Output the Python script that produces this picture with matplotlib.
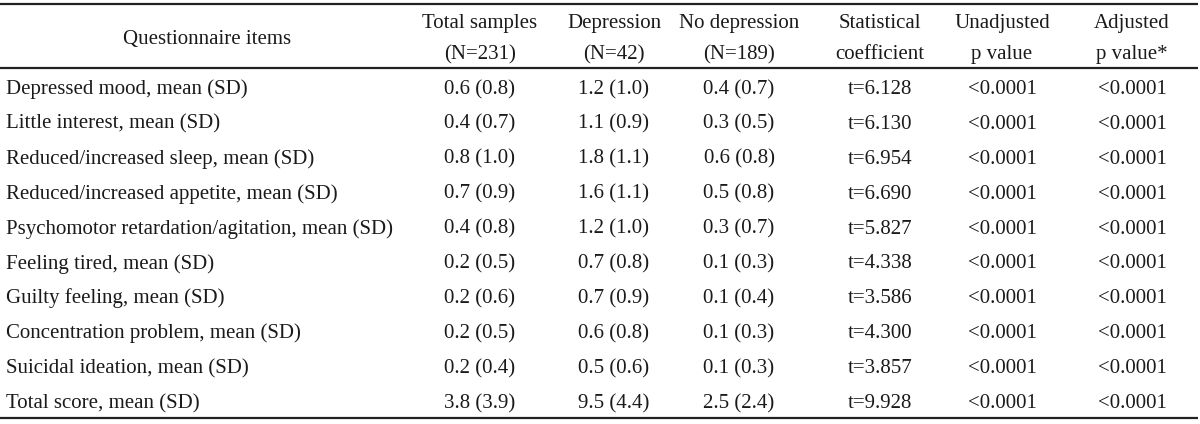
import matplotlib
matplotlib.use("Agg")
import matplotlib.pyplot as plt

plt.rcParams['font.family'] = ['Liberation Serif', 'DejaVu Serif']

HEADERS = ["Questionnaire items", "Total samples\n(N=231)", "Depression\n(N=42)",
           "No depression\n(N=189)", "Statistical\ncoefficient", "Unadjusted\np value",
           "Adjusted\np value*"]
ITEMS = ["Depressed mood, mean (SD)", "Little interest, mean (SD)",
         "Reduced/increased sleep, mean (SD)", "Reduced/increased appetite, mean (SD)",
         "Psychomotor retardation/agitation, mean (SD)", "Feeling tired, mean (SD)",
         "Guilty feeling, mean (SD)", "Concentration problem, mean (SD)",
         "Suicidal ideation, mean (SD)", "Total score, mean (SD)"]
total = ["0.6 (0.8)", "0.4 (0.7)", "0.8 (1.0)", "0.7 (0.9)", "0.4 (0.8)",
         "0.2 (0.5)", "0.2 (0.6)", "0.2 (0.5)", "0.2 (0.4)", "3.8 (3.9)"]
depression = ["1.2 (1.0)", "1.1 (0.9)", "1.8 (1.1)", "1.6 (1.1)", "1.2 (1.0)",
              "0.7 (0.8)", "0.7 (0.9)", "0.6 (0.8)", "0.5 (0.6)", "9.5 (4.4)"]
no_depression = ["0.4 (0.7)", "0.3 (0.5)", "0.6 (0.8)", "0.5 (0.8)", "0.3 (0.7)",
                 "0.1 (0.3)", "0.1 (0.4)", "0.1 (0.3)", "0.1 (0.3)", "2.5 (2.4)"]
stat_coef = ["t=6.128", "t=6.130", "t=6.954", "t=6.690", "t=5.827",
             "t=4.338", "t=3.586", "t=4.300", "t=3.857", "t=9.928"]
p_unadj = ["<0.0001"] * 10
p_adj = ["<0.0001"] * 10

COL_X = [207, 480, 614, 739, 880, 1002, 1132]
FS = 15
INK = "#1a1a1a"

fig = plt.figure(figsize=(12, 4.24), dpi=100)
ax = fig.add_axes([0, 0, 1, 1])
ax.set_xlim(0, 1200)
ax.set_ylim(424, 0)
ax.axis("off")

# rules
for y in [4, 68, 418]:
    ax.plot([0, 1198], [y, y], color="#222222", lw=1.6, solid_capstyle="butt")

# header (baselines)
ax.text(COL_X[0], 44, HEADERS[0], ha="center", va="baseline", fontsize=FS, color=INK)
for x, h in zip(COL_X[1:], HEADERS[1:]):
    top, bottom = h.split("\n")
    ax.text(x, 28, top, ha="center", va="baseline", fontsize=FS, color=INK)
    ax.text(x, 59, bottom, ha="center", va="baseline", fontsize=FS, color=INK)

# body
columns = [total, depression, no_depression, stat_coef, p_unadj, p_adj]
for i, item in enumerate(ITEMS):
    y = 94 + i * 34.9
    ax.text(6, y, item, ha="left", va="baseline", fontsize=FS, color=INK)
    for x, col in zip(COL_X[1:], columns):
        ax.text(x, y, col[i], ha="center", va="baseline", fontsize=FS, color=INK)

fig.savefig("out.png", dpi=100, facecolor="white")
